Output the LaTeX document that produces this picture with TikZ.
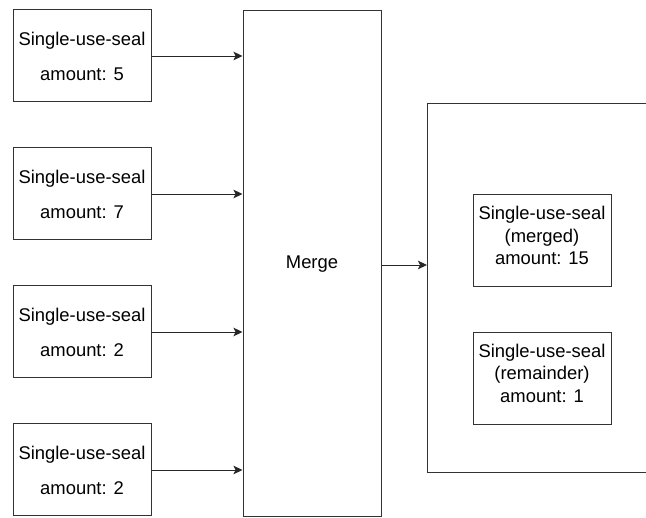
\documentclass[tikz,border=0pt]{standalone}
\usepackage{fontspec}
\setmainfont{Liberation Sans}
\usetikzlibrary{arrows.meta}
\begin{document}
\begin{tikzpicture}[x=1pt,y=-1pt,
  box/.style={draw=black!80, line width=1pt, fill=white, inner sep=0pt, align=center, font=\fontsize{18.4}{35}\selectfont},
  innerbox/.style={box},
  innertext/.style={inner sep=0pt, align=center, font=\fontsize{18.4}{22.5}\selectfont},
  arr/.style={-{Stealth[length=9pt,width=8.5pt,inset=2pt]}, line width=0.9pt, draw=black!85}]
\clip (0,0) rectangle (646,518);
\useasboundingbox (0,0) rectangle (646,518);
\node[box, minimum width=138pt, minimum height=92pt] (s1) at (82,56) {Single-use-seal\\amount: 5};
\node[box, minimum width=138pt, minimum height=92pt] (s2) at (82,194) {Single-use-seal\\amount: 7};
\node[box, minimum width=138pt, minimum height=92pt] (s3) at (82,332) {Single-use-seal\\amount: 2};
\node[box, minimum width=138pt, minimum height=92pt] (s4) at (82,470) {Single-use-seal\\amount: 2};
\node[box, minimum width=138pt, minimum height=506pt] (merge) at (312,264) {Merge};
\node[box, minimum width=260pt, minimum height=369pt, anchor=north west] (out) at (427,103) {};
\node[innerbox, minimum width=138pt, minimum height=92pt] (m) at (542,241) {};
\node[innertext] (mt) at ([yshift=5.5pt]m.center) {Single-use-seal\\(merged)\\amount: 15};
\node[innerbox, minimum width=138pt, minimum height=92pt] (r) at (542,379) {};
\node[innertext] (rt) at ([yshift=6pt]r.center) {Single-use-seal\\(remainder)\\amount: 1};
\foreach \s in {s1,s2,s3,s4}
  \draw[arr] (\s.east) -- (\s.east -| merge.west);
\draw[arr] (merge.east |- 0,265) -- (out.west |- 0,265);
\end{tikzpicture}
\end{document}
